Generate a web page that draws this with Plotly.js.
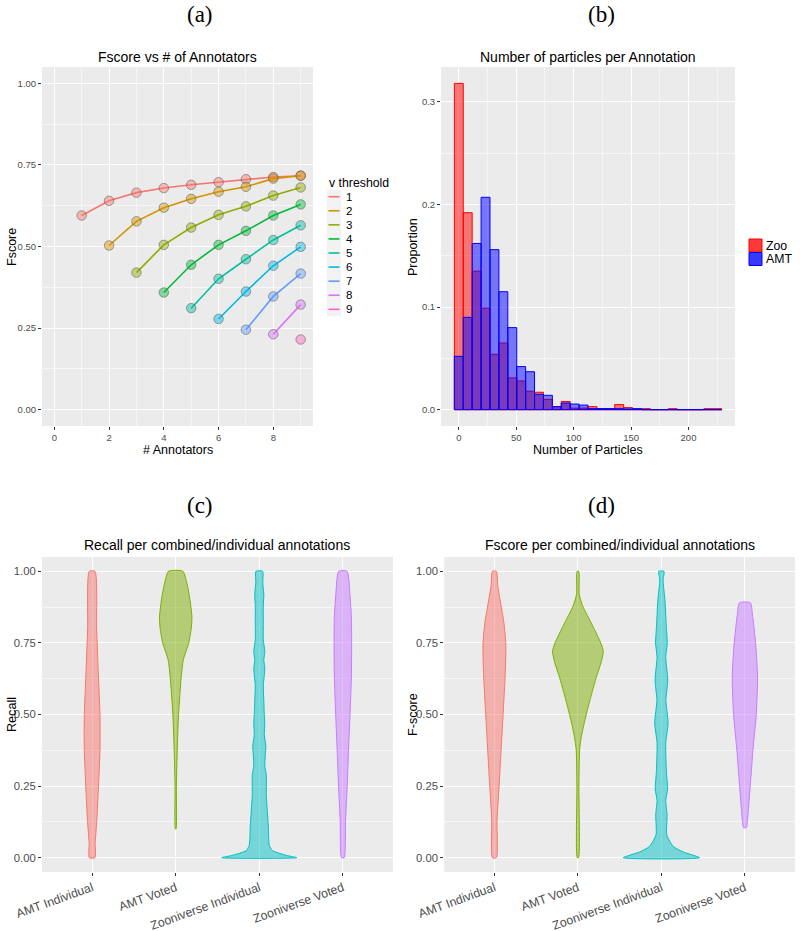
<!DOCTYPE html>
<html><head><meta charset="utf-8">
<script src="https://cdn.plot.ly/plotly-3.0.1.min.js"></script>
<style>body{margin:0;background:#fff}#chart{width:800px;height:931px}</style>
</head><body><div id="chart"></div>
<script>
// ---------- Panel (a): Fscore vs # of Annotators ----------
const thresholds = ['1','2','3','4','5','6','7','8','9'];
const annotators = [1,2,3,4,5,6,7,8,9];
const fscoreT1 = [0.595,0.640,0.665,0.679,0.689,0.697,0.706,0.713,0.717];
const fscoreT2 = [0.503,0.577,0.619,0.646,0.668,0.683,0.708,0.717];
const fscoreT3 = [0.420,0.505,0.558,0.597,0.623,0.656,0.681];
const fscoreT4 = [0.359,0.444,0.505,0.548,0.595,0.629];
const fscoreT5 = [0.311,0.401,0.461,0.520,0.565];
const fscoreT6 = [0.278,0.362,0.441,0.499];
const fscoreT7 = [0.245,0.347,0.417];
const fscoreT8 = [0.231,0.322];
const fscoreT9 = [0.215];
const fscoreSeries = [fscoreT1,fscoreT2,fscoreT3,fscoreT4,fscoreT5,fscoreT6,fscoreT7,fscoreT8,fscoreT9];
const hue9 = ['#F8766D','#D39200','#93AA00','#00BA38','#00C19F','#00B9E3','#619CFF','#DB72FB','#FF61C3'];

// ---------- Panel (b): Number of particles per Annotation ----------
const binCenters = [0,7.76,15.52,23.28,31.03,38.79,46.55,54.31,62.07,69.83,77.59,85.34,93.10,100.86,108.62,
                    116.38,124.14,131.90,139.66,147.41,155.17,162.93,170.69,178.45,186.21,193.97,201.72,209.48,217.24,225.00];
const zooProp = [0.318,0.192,0.135,0.099,0.054,0.065,0.031,0.028,0.018,0.017,0.010,0.003,0.008,0.0015,0.0015,
                 0.003,0.001,0.001,0.005,0.002,0.0005,0.001,0,0,0.001,0,0,0,0.001,0.001];
const amtProp = [0.052,0.090,0.162,0.207,0.156,0.115,0.080,0.042,0.037,0.015,0.014,0.003,0.0065,0.0055,0.0045,
                 0.001,0.001,0.001,0.001,0.0007,0.001,0,0,0,0,0,0,0,0,0];
const histNames = ['Zoo','AMT'];

// ---------- Panels (c),(d): violins (density profile: y level, half-width in category units) ----------
const violinCats = ['AMT Individual','AMT Voted','Zooniverse Individual','Zooniverse Voted'];
const hue4 = ['#F8766D','#7CAE00','#00BFC4','#C77CFF'];

const recallAmtIndY = [0,0.05,0.13,0.25,0.375,0.5,0.64,0.8,1.0];
const recallAmtIndW = [0.034,0.036,0.056,0.076,0.094,0.094,0.074,0.054,0.034];
const recallAmtVotY = [0.1,0.25,0.375,0.5,0.63,0.69,0.75,0.80,0.84,0.88,0.92,0.96,1.0];
const recallAmtVotW = [0.004,0.008,0.018,0.034,0.066,0.09,0.156,0.186,0.194,0.18,0.16,0.132,0.086];
const recallZooIndY = [0,0.008,0.025,0.043,0.11,0.22,0.29,0.32,0.36,0.39,0.43,0.47,0.5,0.55,0.6,0.66,0.69,0.72,0.76,0.82,0.88,0.92,0.96,1.0];
const recallZooIndW = [0.449,0.323,0.156,0.12,0.108,0.084,0.084,0.066,0.072,0.078,0.06,0.066,0.06,0.054,0.048,0.066,0.054,0.066,0.048,0.048,0.048,0.054,0.042,0.04];
const recallZooVotY = [0,0.13,0.25,0.375,0.5,0.63,0.75,0.84,0.92,1.0];
const recallZooVotW = [0.016,0.032,0.052,0.068,0.086,0.102,0.105,0.102,0.084,0.05];

const fAmtIndY = [0,0.13,0.25,0.375,0.5,0.63,0.7,0.75,0.82,0.9,0.95,1.0];
const fAmtIndW = [0.024,0.032,0.056,0.08,0.104,0.128,0.136,0.136,0.114,0.068,0.04,0.024];
const fAmtVotY = [0,0.25,0.375,0.42,0.47,0.53,0.58,0.63,0.68,0.72,0.75,0.81,0.88,0.92,1.0];
const fAmtVotW = [0.008,0.012,0.02,0.04,0.076,0.126,0.172,0.22,0.276,0.304,0.274,0.176,0.056,0.016,0.01];
const fZooIndY = [0,0.02,0.04,0.08,0.15,0.2,0.24,0.3,0.4,0.47,0.55,0.62,0.7,0.75,0.8,0.9,0.97,1.0];
const fZooIndW = [0.456,0.26,0.14,0.064,0.068,0.052,0.074,0.06,0.052,0.08,0.054,0.076,0.052,0.07,0.06,0.042,0.02,0.032];
const fZooVotY = [0.105,0.13,0.25,0.375,0.5,0.63,0.75,0.85,0.89];
const fZooVotW = [0.018,0.03,0.064,0.096,0.136,0.152,0.128,0.09,0.066];

const recallViolins = [[recallAmtIndY,recallAmtIndW],[recallAmtVotY,recallAmtVotW],[recallZooIndY,recallZooIndW],[recallZooVotY,recallZooVotW]];
const fscoreViolins = [[fAmtIndY,fAmtIndW],[fAmtVotY,fAmtVotW],[fZooIndY,fZooIndW],[fZooVotY,fZooVotW]];

// ---------- helpers ----------
const W = 800, H = 931;
const PX = v => v / W;
const PY = v => 1 - v / H;
function rgba(hex, a) {
  const r = parseInt(hex.slice(1,3),16), g = parseInt(hex.slice(3,5),16), b = parseInt(hex.slice(5,7),16);
  return `rgba(${r},${g},${b},${a})`;
}
const SANS = 'Liberation Sans, Arial, Helvetica, sans-serif';
const SERIF = 'Liberation Serif, Times New Roman, serif';

const traces = [];

// panel (a)
fscoreSeries.forEach((vals, i) => {
  const xs = annotators.slice(i, i + vals.length);
  traces.push({
    type: 'scatter', mode: 'lines+markers', x: xs, y: vals, xaxis: 'x', yaxis: 'y',
    line: {color: hue9[i], width: 1.6},
    marker: {size: 9.5, color: rgba(hue9[i], 0.45), line: {color: 'rgba(90,90,90,0.55)', width: 1}},
    showlegend: false, hoverinfo: 'skip'
  });
});

// panel (b)
[[zooProp,'#FF0000'],[amtProp,'#0000FF']].forEach(([vals, col], i) => {
  traces.push({
    type: 'bar', x: binCenters, y: vals, width: 7.76, xaxis: 'x2', yaxis: 'y2', name: histNames[i],
    marker: {color: rgba(col, 0.5), line: {color: col, width: 1}},
    showlegend: false, hoverinfo: 'skip'
  });
});

// panels (c),(d)
function violinTrace(idx, ys, ws, color, xa, ya) {
  const xs = [], yy = [];
  for (let k = 0; k < ys.length; k++) { xs.push(idx - ws[k]); yy.push(ys[k]); }
  for (let k = ys.length - 1; k >= 0; k--) { xs.push(idx + ws[k]); yy.push(ys[k]); }
  xs.push(xs[0]); yy.push(yy[0]);
  return {type: 'scatter', mode: 'lines', x: xs, y: yy, xaxis: xa, yaxis: ya, fill: 'toself',
          fillcolor: rgba(color, 0.5), line: {color: color, width: 1, shape: 'spline', smoothing: 0.6},
          showlegend: false, hoverinfo: 'skip'};
}
recallViolins.forEach(([ys, ws], i) => traces.push(violinTrace(i, ys, ws, hue4[i], 'x3', 'y3')));
fscoreViolins.forEach(([ys, ws], i) => traces.push(violinTrace(i, ys, ws, hue4[i], 'x4', 'y4')));

// ---------- axes ----------
const axBase = {
  showgrid: true, gridcolor: '#FFFFFF', gridwidth: 1.1, zeroline: false, showline: false,
  ticks: 'outside', ticklen: 3, tickwidth: 1, tickcolor: '#333333',
  tickfont: {family: SANS, size: 9.5, color: '#4D4D4D'}, automargin: false, fixedrange: true
};
const minorGrid = (dt) => ({dtick: dt, tick0: 0, showgrid: true, gridcolor: '#FFFFFF', gridwidth: 0.55, ticks: ''});

const topY = [PY(426), PY(67)];
const botY = [PY(872), PY(557)];

const layout = {
  width: W, height: H, margin: {l: 0, r: 0, t: 0, b: 0},
  paper_bgcolor: '#FFFFFF', plot_bgcolor: '#EBEBEB', showlegend: false, barmode: 'overlay',
  font: {family: SANS},
  xaxis: Object.assign({}, axBase, {domain: [PX(42), PX(313)], anchor: 'y', range: [-0.45, 9.45],
           tickmode: 'linear', tick0: 0, dtick: 2, minor: minorGrid(1)}),
  yaxis: Object.assign({}, axBase, {domain: topY, anchor: 'x', range: [-0.05, 1.05],
           tickmode: 'linear', tick0: 0, dtick: 0.25, tickformat: '.2f', minor: minorGrid(0.125)}),
  xaxis2: Object.assign({}, axBase, {domain: [PX(441), PX(735)], anchor: 'y2', range: [-15.5, 240.5],
           tickmode: 'linear', tick0: 0, dtick: 50, minor: minorGrid(25)}),
  yaxis2: Object.assign({}, axBase, {domain: topY, anchor: 'x2', range: [-0.0159, 0.334],
           tickmode: 'linear', tick0: 0, dtick: 0.1, tickformat: '.1f', minor: minorGrid(0.05)}),
  xaxis3: Object.assign({}, axBase, {domain: [PX(42), PX(393)], anchor: 'y3', range: [-0.6, 3.6],
           tickmode: 'array', tickvals: [0,1,2,3], ticktext: violinCats, tickangle: -20,
           tickfont: {family: SANS, size: 12.3, color: '#4D4D4D'}}),
  yaxis3: Object.assign({}, axBase, {domain: botY, anchor: 'x3', range: [-0.05, 1.05],
           tickmode: 'linear', tick0: 0, dtick: 0.25, tickformat: '.2f', minor: minorGrid(0.125),
           tickfont: {family: SANS, size: 11.3, color: '#4D4D4D'}}),
  xaxis4: Object.assign({}, axBase, {domain: [PX(444.3), PX(795)], anchor: 'y4', range: [-0.6, 3.6],
           tickmode: 'array', tickvals: [0,1,2,3], ticktext: violinCats, tickangle: -20,
           tickfont: {family: SANS, size: 12.3, color: '#4D4D4D'}}),
  yaxis4: Object.assign({}, axBase, {domain: botY, anchor: 'x4', range: [-0.05, 1.05],
           tickmode: 'linear', tick0: 0, dtick: 0.25, tickformat: '.2f', minor: minorGrid(0.125),
           tickfont: {family: SANS, size: 11.3, color: '#4D4D4D'}}),
  annotations: [], shapes: []
};

function txt(text, x, y, size, opts) {
  return Object.assign({text: text, xref: 'paper', yref: 'paper', x: PX(x), y: PY(y), showarrow: false,
    xanchor: 'center', yanchor: 'middle', font: {family: SANS, size: size, color: '#000000'}}, opts || {});
}
const A = layout.annotations;
// panel labels
A.push(txt('(a)', 200, 15, 23, {font: {family: SERIF, size: 23, color: '#000'}}));
A.push(txt('(b)', 601, 15, 23, {font: {family: SERIF, size: 23, color: '#000'}}));
A.push(txt('(c)', 200, 505, 23, {font: {family: SERIF, size: 23, color: '#000'}}));
A.push(txt('(d)', 601, 505, 23, {font: {family: SERIF, size: 23, color: '#000'}}));
// plot titles
A.push(txt('Fscore vs # of Annotators', 177.5, 57, 14));
A.push(txt('Number of particles per Annotation', 588, 57, 14));
A.push(txt('Recall per combined/individual annotations', 217.5, 545, 14));
A.push(txt('Fscore per combined/individual annotations', 619.6, 545, 14));
// axis titles
A.push(txt('Fscore', 12, 247, 12.5, {textangle: -90}));
A.push(txt('# Annotators', 177.5, 450, 12.5));
A.push(txt('Proportion', 413, 247, 12.5, {textangle: -90}));
A.push(txt('Number of Particles', 588, 450, 12.5));
A.push(txt('Recall', 12, 715, 12.6, {textangle: -90}));
A.push(txt('F-score', 413, 715, 12.6, {textangle: -90}));

// legend (a)
A.push(txt('v threshold', 327, 183, 12.3, {xanchor: 'left'}));
thresholds.forEach((t, i) => {
  const cy = 196.7 + 14.08 * i;
  layout.shapes.push({type: 'rect', xref: 'paper', yref: 'paper', x0: PX(327), x1: PX(341),
    y0: PY(cy - 7), y1: PY(cy + 7), fillcolor: '#F2F2F2', line: {width: 0}, layer: 'above'});
  layout.shapes.push({type: 'line', xref: 'paper', yref: 'paper', x0: PX(328.5), x1: PX(339.5),
    y0: PY(cy), y1: PY(cy), line: {color: hue9[i], width: 1.6}, layer: 'above'});
  A.push(txt(t, 344, cy, 11.5, {xanchor: 'left'}));
});
// legend (b)
[['#FF0000'],['#0000FF']].forEach(([col], i) => {
  const top = 239 + 13.5 * i;
  layout.shapes.push({type: 'rect', xref: 'paper', yref: 'paper', x0: PX(749), x1: PX(762),
    y0: PY(top + 13), y1: PY(top), fillcolor: rgba(col, 0.78), line: {color: col, width: 1}, layer: 'above'});
  A.push(txt(histNames[i], 764, top + 7, 12.3, {xanchor: 'left'}));
});

Plotly.newPlot('chart', traces, layout, {staticPlot: true, displayModeBar: false});
</script>
</body></html>
